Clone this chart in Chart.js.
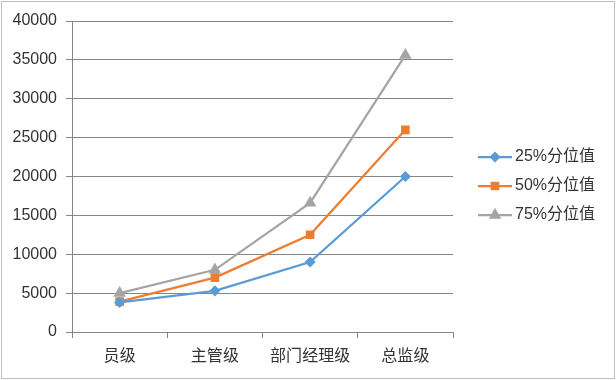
<!DOCTYPE html>
<html>
<head>
<meta charset="utf-8">
<script src="https://cdn.jsdelivr.net/npm/chart.js@4/dist/chart.umd.min.js"></script>
<style>
html,body{margin:0;padding:0;background:#fff;}
#wrap{position:relative;width:616px;height:380px;}
</style>
</head>
<body>
<div id="wrap"><canvas id="c" width="616" height="380"></canvas></div>
<script>
const categories = ['员级', '主管级', '部门经理级', '总监级'];
const seriesNames = ['25%分位值', '50%分位值', '75%分位值'];
const p25 = [3800, 5300, 9000, 20000];
const p50 = [3900, 7000, 12500, 26000];
const p75 = [5000, 8000, 16600, 35600];
const yTicks = [0, 5000, 10000, 15000, 20000, 25000, 30000, 35000, 40000];

const FONT = '"Liberation Sans", "Noto Sans CJK SC", sans-serif';
const colors = ['#5B9BD5', '#ED7D31', '#A5A5A5'];
const styles = ['rectRot', 'rect', 'triangle'];
const radii = [4, 4.5, 5];

const frame = {
  id: 'frame',
  beforeDraw(chart) {
    const ctx = chart.ctx;
    ctx.save();
    ctx.fillStyle = '#fff';
    ctx.fillRect(0, 0, chart.width, chart.height);
    ctx.strokeStyle = '#BFBFBF';
    ctx.lineWidth = 1;
    ctx.strokeRect(1.5, 1.5, chart.width - 3, chart.height - 3);
    ctx.restore();
  }
};

const legendPlugin = {
  id: 'customLegend',
  afterDraw(chart) {
    const ctx = chart.ctx;
    ctx.save();
    const x0 = 478, x1 = 512, ys = [157, 186, 215];
    chart.data.datasets.forEach((ds, i) => {
      const y = ys[i];
      ctx.strokeStyle = ds.borderColor;
      ctx.lineWidth = 2.25;
      ctx.beginPath();
      ctx.moveTo(x0, y);
      ctx.lineTo(x1, y);
      ctx.stroke();
      ctx.fillStyle = ds.borderColor;
      ctx.strokeStyle = ds.borderColor;
      Chart.helpers.drawPoint(ctx, {
        pointStyle: ds.pointStyle,
        radius: ds.pointRadius,
        rotation: 0,
        borderWidth: 1
      }, (x0 + x1) / 2, y);
      ctx.fillStyle = '#333333';
      ctx.font = '16px ' + FONT;
      ctx.textBaseline = 'middle';
      ctx.textAlign = 'left';
      ctx.fillText(ds.label, 515, y);
    });
    ctx.restore();
  }
};

const seriesData = [p25, p50, p75];

new Chart(document.getElementById('c'), {
  type: 'line',
  data: {
    labels: categories,
    datasets: seriesNames.map((name, i) => ({
      label: name,
      data: seriesData[i],
      borderColor: colors[i],
      backgroundColor: colors[i],
      pointBackgroundColor: colors[i],
      pointBorderColor: colors[i],
      pointStyle: styles[i],
      pointRadius: radii[i],
      borderWidth: 2.25,
      tension: 0,
      fill: false
    }))
  },
  options: {
    responsive: false,
    animation: false,
    devicePixelRatio: 1,
    layout: { padding: { left: 0, right: 163, top: 21, bottom: 0 } },
    plugins: {
      legend: { display: false },
      tooltip: { enabled: false }
    },
    scales: {
      x: {
        type: 'category',
        offset: true,
        afterFit(scale) { scale.height = 48; },
        grid: {
          offset: true,
          drawOnChartArea: false,
          drawTicks: true,
          tickLength: 6,
          color: '#868686'
        },
        border: { color: '#868686', width: 1 },
        ticks: {
          color: '#333333',
          font: { family: FONT, size: 16 },
          padding: 9,
          maxRotation: 0
        }
      },
      y: {
        min: 0,
        max: 40000,
        afterFit(scale) { scale.width = 72; },
        afterBuildTicks(scale) { scale.ticks = yTicks.map(v => ({ value: v })); },
        grid: {
          color: '#868686',
          lineWidth: 1,
          drawTicks: true,
          tickLength: 6
        },
        border: { color: '#868686', width: 1 },
        ticks: {
          color: '#333333',
          font: { family: FONT, size: 16 },
          padding: 9,
          callback: (v) => String(v)
        }
      }
    }
  },
  plugins: [frame, legendPlugin]
});
</script>
</body>
</html>
